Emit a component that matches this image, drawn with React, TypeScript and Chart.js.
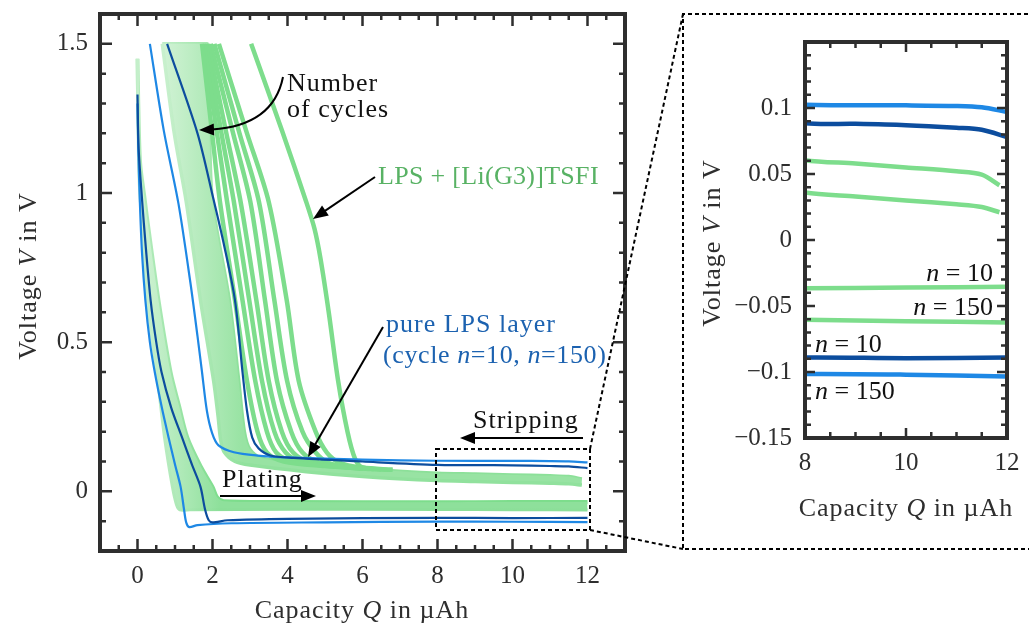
import React, { useEffect, useRef } from 'react';
import { Chart, registerables } from 'chart.js';
Chart.register(...registerables);

type Pt = [number, number];

// ---------- axes ----------
const X_MAIN_TICKS = [0, 2, 4, 6, 8, 10, 12];
const X_MAIN_LABELS = ['0', '2', '4', '6', '8', '10', '12'];
const Y_MAIN_TICKS = [0, 0.5, 1, 1.5];
const Y_MAIN_LABELS = ['0', '0.5', '1', '1.5'];
const X_INSET_TICKS = [8, 10, 12];
const X_INSET_LABELS = ['8', '10', '12'];
const Y_INSET_TICKS = [-0.15, -0.1, -0.05, 0, 0.05, 0.1];
const Y_INSET_LABELS = ['\u22120.15', '\u22120.1', '\u22120.05', '0', '0.05', '0.1'];

// ---------- LPS + [Li(G3)]TSFI (green) : Q in µAh, V in V ----------
const PLATE_10: Pt[] = [[0, 1.45], [0.02, 1.3], [0.07, 1.1], [0.19, 0.98], [0.26, 0.91], [0.56, 0.64], [0.88, 0.4], [1.1, 0.29], [1.33, 0.18], [1.7, 0.08], [2.0, 0.015], [2.12, -0.02], [2.3, -0.033], [4, -0.0355], [8, -0.0365], [10, -0.036], [12, -0.0355]];
const PLATE_150: Pt[] = [[0, 1.45], [0.01, 1.3], [0.03, 1.1], [0.07, 0.98], [0.13, 0.91], [0.26, 0.64], [0.53, 0.38], [0.72, 0.18], [0.93, 0.015], [1.04, -0.045], [1.13, -0.062], [1.4, -0.062], [4, -0.06], [8, -0.0605], [10, -0.0615], [12, -0.0625]];
const STRIP_150: Pt[] = [[0.66, 1.5], [0.98, 1.2], [1.3, 0.97], [1.68, 0.64], [2.03, 0.37], [2.15, 0.25], [2.22, 0.17], [2.32, 0.13], [2.6, 0.1], [3, 0.088], [4.5, 0.066], [6, 0.05], [8, 0.036], [9, 0.033], [10, 0.03], [11, 0.027], [11.5, 0.025], [11.85, 0.021]];
const STRIP_10: Pt[] = [[0.66, 1.5], [1.85, 1.5], [1.86, 1.5], [1.92, 1.2], [2.0, 0.97], [2.45, 0.64], [2.7, 0.37], [2.85, 0.2], [3.0, 0.14], [3.3, 0.112], [4.5, 0.09], [6, 0.075], [8, 0.0605], [9, 0.058], [10, 0.055], [11, 0.052], [11.5, 0.0495], [11.85, 0.0415]];
const CYCLE_A: Pt[] = [[1.72, 1.5], [1.99, 1.2], [2.2, 0.97], [2.6, 0.64], [2.92, 0.37], [3.2, 0.2], [3.45, 0.13], [3.9, 0.1], [5, 0.085], [6, 0.076]];
const CYCLE_B: Pt[] = [[1.77, 1.5], [2.12, 1.2], [2.39, 0.97], [2.8, 0.64], [3.14, 0.37], [3.45, 0.2], [3.7, 0.13], [4.13, 0.1], [5, 0.087], [6, 0.076]];
const CYCLE_C: Pt[] = [[1.82, 1.5], [2.24, 1.2], [2.57, 0.97], [2.98, 0.64], [3.32, 0.37], [3.65, 0.2], [3.95, 0.13], [4.35, 0.1], [5.2, 0.085], [6, 0.076]];
const CYCLE_D: Pt[] = [[1.88, 1.5], [2.37, 1.2], [2.75, 0.97], [3.17, 0.64], [3.5, 0.37], [3.85, 0.2], [4.15, 0.13], [4.6, 0.097], [5.4, 0.084], [6.2, 0.075]];
const CYCLE_E: Pt[] = [[1.95, 1.5], [2.55, 1.2], [3.01, 0.97], [3.4, 0.64], [3.72, 0.37], [4.1, 0.2], [4.4, 0.13], [4.83, 0.097], [5.5, 0.084], [6.3, 0.074]];
const CYCLE_F: Pt[] = [[2.05, 1.5], [2.72, 1.2], [3.24, 0.97], [3.65, 0.64], [3.99, 0.37], [4.4, 0.2], [4.75, 0.13], [5.1, 0.095], [5.8, 0.08], [6.5, 0.073]];
const CYCLE_G: Pt[] = [[2.17, 1.5], [2.92, 1.2], [3.5, 0.97], [3.98, 0.64], [4.3, 0.37], [4.75, 0.2], [5.05, 0.13], [5.41, 0.095], [6, 0.08], [6.8, 0.072]];
const CYCLE_FIRST: Pt[] = [[3.03, 1.5], [3.85, 1.21], [4.5, 0.97], [4.72, 0.88], [4.88, 0.78], [5.1, 0.6], [5.35, 0.37], [5.6, 0.2], [5.8, 0.11], [6.0, 0.08], [6.8, 0.072]];

// ---------- pure LPS layer (blue) ----------
const BLUE_PLATE_150: Pt[] = [[0, 1.3], [0.02, 1.15], [0.06, 0.98], [0.12, 0.8], [0.21, 0.64], [0.33, 0.5], [0.46, 0.4], [0.65, 0.28], [0.83, 0.18], [1.0, 0.09], [1.15, 0.015], [1.24, -0.06], [1.3, -0.105], [1.38, -0.12], [1.6, -0.113], [2.5, -0.107], [5, -0.104], [8, -0.1015], [10, -0.102], [12, -0.1035]];
const BLUE_PLATE_10: Pt[] = [[0, 1.33], [0.03, 1.15], [0.12, 0.98], [0.22, 0.82], [0.35, 0.64], [0.5, 0.5], [0.64, 0.4], [0.9, 0.28], [1.19, 0.18], [1.45, 0.09], [1.68, 0.015], [1.8, -0.06], [1.9, -0.097], [2.0, -0.104], [2.4, -0.097], [4, -0.092], [8, -0.089], [10, -0.0895], [12, -0.089]];
const BLUE_STRIP_150: Pt[] = [[0.33, 1.5], [0.7, 1.21], [1.09, 0.966], [1.41, 0.7], [1.6, 0.52], [1.72, 0.4], [1.85, 0.27], [1.99, 0.195], [2.16, 0.154], [2.57, 0.131], [3.2, 0.12], [4, 0.114], [6, 0.106], [8, 0.1025], [10, 0.102], [11, 0.1015], [11.5, 0.1005], [12, 0.097]];
const BLUE_STRIP_10: Pt[] = [[0.79, 1.5], [1.6, 1.2], [2.03, 0.977], [2.3, 0.83], [2.6, 0.64], [2.8, 0.4], [2.92, 0.27], [3.06, 0.18], [3.23, 0.144], [3.55, 0.12], [4.16, 0.112], [6, 0.1], [8, 0.0885], [9, 0.088], [10, 0.087], [11, 0.085], [11.5, 0.0835], [12, 0.078]];

// ---------- styles ----------
const FONT = '"Liberation Serif", "Times New Roman", serif';
const INK = '#2e2e2e';
const GREEN_LINE = 'rgb(125,221,140)';
const BLUE_LIGHT = 'rgb(30,136,229)';
const BLUE_DARK = 'rgb(12,77,158)';
const GREEN_TEXT = 'rgb(88,178,100)';
const BLUE_TEXT = 'rgb(28,98,176)';

const toXY = (a: Pt[]) => a.map(([x, y]) => ({ x, y }));

const grad = (q0: number, q1: number, c0: string, c1: string) => (c: any) => {
  const ch = c.chart;
  const xs = ch.scales && ch.scales.x;
  if (!ch.chartArea || !xs) return c1;
  const g = ch.ctx.createLinearGradient(xs.getPixelForValue(q0), 0, xs.getPixelForValue(q1), 0);
  g.addColorStop(0, c0);
  g.addColorStop(1, c1);
  return g;
};

function lineDs(data: Pt[], color: any, width: number, order: number, extra: any = {}) {
  return {
    data: toXY(data),
    borderColor: color,
    borderWidth: width,
    pointRadius: 0,
    fill: false,
    order,
    tension: 0.3,
    borderCapStyle: 'butt',
    borderJoinStyle: 'round',
    ...extra,
  };
}

type Part = { t: string; i?: boolean };
function rich(ctx: CanvasRenderingContext2D, parts: Part[], x: number, y: number, o: { size: number; color: string; align?: string; rot?: number; sp?: number }) {
  ctx.save();
  ctx.translate(x, y);
  if (o.rot) ctx.rotate(o.rot);
  ctx.fillStyle = o.color;
  ctx.textBaseline = 'alphabetic';
  ctx.textAlign = 'left';
  const fonts = parts.map((p) => `${p.i ? 'italic ' : ''}${o.size}px ${FONT}`);
  const sp = (o.sp ?? 1) + 'px';
  const widths = parts.map((p, k) => {
    ctx.font = fonts[k];
    (ctx as any).letterSpacing = sp;
    return ctx.measureText(p.t).width;
  });
  const total = widths.reduce((a, b) => a + b, 0);
  let cx = o.align === 'center' ? -total / 2 : o.align === 'right' ? -total : 0;
  parts.forEach((p, k) => {
    ctx.font = fonts[k];
    (ctx as any).letterSpacing = sp;
    ctx.fillText(p.t, cx, 0);
    cx += widths[k];
  });
  ctx.restore();
}

function head(ctx: CanvasRenderingContext2D, x: number, y: number, ang: number, len = 15, half = 6) {
  const c = Math.cos(ang), s = Math.sin(ang);
  ctx.beginPath();
  ctx.moveTo(x, y);
  ctx.lineTo(x - len * c + half * s, y - len * s - half * c);
  ctx.lineTo(x - len * c - half * s, y - len * s + half * c);
  ctx.closePath();
  ctx.fill();
}
function arrow(ctx: CanvasRenderingContext2D, x0: number, y0: number, x1: number, y1: number) {
  const ang = Math.atan2(y1 - y0, x1 - x0);
  ctx.beginPath();
  ctx.moveTo(x0, y0);
  ctx.lineTo(x1 - 10 * Math.cos(ang), y1 - 10 * Math.sin(ang));
  ctx.stroke();
  head(ctx, x1, y1, ang);
}

function framePlugin(o: { xMajor: number[]; xStep: number; yMajor: number[]; yStep: number; majorLen: number; minorLen: number; frameW: number }) {
  return {
    id: 'frame',
    afterDatasetsDraw(chart: any) {
      const { ctx, chartArea: a } = chart;
      const x = chart.scales.x, y = chart.scales.y;
      const near = (arr: number[], v: number) => arr.some((m) => Math.abs(m - v) < 1e-7);
      ctx.save();
      ctx.strokeStyle = INK;
      ctx.lineWidth = 2.5;
      ctx.beginPath();
      for (let n = Math.ceil(x.min / o.xStep - 1e-9); n * o.xStep <= x.max + 1e-9; n++) {
        const v = n * o.xStep;
        const px = x.getPixelForValue(v);
        const L = near(o.xMajor, v) ? o.majorLen : o.minorLen;
        ctx.moveTo(px, a.bottom); ctx.lineTo(px, a.bottom - L);
        ctx.moveTo(px, a.top); ctx.lineTo(px, a.top + L);
      }
      for (let n = Math.ceil(y.min / o.yStep - 1e-9); n * o.yStep <= y.max + 1e-9; n++) {
        const v = n * o.yStep;
        const py = y.getPixelForValue(v);
        const L = near(o.yMajor, v) ? o.majorLen : o.minorLen;
        ctx.moveTo(a.left, py); ctx.lineTo(a.left + L, py);
        ctx.moveTo(a.right, py); ctx.lineTo(a.right - L, py);
      }
      ctx.stroke();
      ctx.lineWidth = o.frameW;
      ctx.strokeRect(a.left, a.top, a.right - a.left, a.bottom - a.top);
      ctx.restore();
    },
  };
}

function axis(min: number, max: number, ticks: number[], labels: string[], size: number, pad: number, fit: (s: any) => void) {
  return {
    type: 'linear',
    min,
    max,
    afterFit: (s: any) => {
      fit(s);
      s.paddingTop = 0;
      s.paddingBottom = 0;
      s.paddingLeft = 0;
      s.paddingRight = 0;
    },
    afterBuildTicks: (s: any) => { s.ticks = ticks.map((v) => ({ value: v })); },
    grid: { display: false, drawTicks: false },
    border: { display: false },
    ticks: { padding: pad, autoSkip: false, maxRotation: 0, color: INK, font: { family: FONT, size }, callback: (_v: any, i: number) => labels[i] },
  };
}

const mainAnnot = {
  id: 'annot',
  afterDraw(chart: any) {
    const ctx: CanvasRenderingContext2D = chart.ctx;
    ctx.save();
    // axis titles
    rich(ctx, [{ t: 'Capacity ' }, { t: 'Q', i: true }, { t: ' in \u00b5Ah' }], 362, 618, { size: 26, color: INK, align: 'center' });
    rich(ctx, [{ t: 'Voltage ' }, { t: 'V', i: true }, { t: ' in V' }], 36, 276, { size: 26, color: INK, align: 'center', rot: -Math.PI / 2 });
    // annotations
    rich(ctx, [{ t: 'Number' }], 287, 91, { size: 26, color: '#111' });
    rich(ctx, [{ t: 'of cycles' }], 287, 117, { size: 26, color: '#111' });
    rich(ctx, [{ t: 'LPS + [Li(G3)]TSFI' }], 378, 184, { size: 26, color: GREEN_TEXT, sp: 0.3 });
    rich(ctx, [{ t: 'pure LPS layer' }], 386, 332, { size: 26, color: BLUE_TEXT });
    rich(ctx, [{ t: '(cycle ' }, { t: 'n', i: true }, { t: '=10, ' }, { t: 'n', i: true }, { t: '=150)' }], 383, 363, { size: 26, color: BLUE_TEXT, sp: 0.6 });
    rich(ctx, [{ t: 'Stripping' }], 473, 428, { size: 26, color: '#111' });
    rich(ctx, [{ t: 'Plating' }], 222, 487, { size: 26, color: '#111' });
    // arrows
    ctx.strokeStyle = '#000';
    ctx.fillStyle = '#000';
    ctx.lineWidth = 2;
    ctx.beginPath();
    ctx.moveTo(283, 77);
    ctx.bezierCurveTo(276, 112, 250, 127, 212, 129.5);
    ctx.stroke();
    head(ctx, 199, 130, Math.PI - 0.04);
    arrow(ctx, 375, 177, 313, 219);
    arrow(ctx, 383, 327, 308, 457);
    arrow(ctx, 583, 438, 460, 438);
    arrow(ctx, 220, 496, 316, 496);
    // zoom boxes
    ctx.setLineDash([4, 3]);
    ctx.lineWidth = 2;
    ctx.strokeRect(436, 449, 154, 81);
    ctx.beginPath();
    ctx.moveTo(590, 449); ctx.lineTo(683, 14);
    ctx.moveTo(590, 530); ctx.lineTo(683, 549);
    ctx.moveTo(1035, 14); ctx.lineTo(683, 14); ctx.lineTo(683, 549); ctx.lineTo(1035, 549);
    ctx.stroke();
    ctx.restore();
  },
};

const insetAnnot = {
  id: 'annot',
  afterDraw(chart: any) {
    const ctx: CanvasRenderingContext2D = chart.ctx;
    ctx.save();
    rich(ctx, [{ t: 'Capacity ' }, { t: 'Q', i: true }, { t: ' in \u00b5Ah' }], 223, 502, { size: 26, color: INK, align: 'center' });
    rich(ctx, [{ t: 'Voltage ' }, { t: 'V', i: true }, { t: ' in V' }], 37, 229, { size: 26, color: INK, align: 'center', rot: -Math.PI / 2 });
    const lab = (num: string, x: number, y: number, align: string) =>
      rich(ctx, [{ t: 'n', i: true }, { t: ' = ' + num }], x, y, { size: 26, color: '#111', align, sp: 0 });
    lab('10', 310, 267, 'right');
    lab('150', 310, 301, 'right');
    lab('10', 132, 338, 'left');
    lab('150', 132, 385, 'left');
    ctx.restore();
  },
};

function mainConfig(): any {
  const plateFill = grad(0.3, 2.2, 'rgb(202,241,207)', 'rgb(142,224,155)');
  const stripFill = grad(0.7, 2.8, 'rgb(208,242,212)', 'rgb(152,227,163)');
  return {
    type: 'line',
    data: {
      datasets: [
        lineDs(PLATE_150, grad(0.3, 2.2, 'rgb(196,239,202)', 'rgb(140,223,153)'), 3, 3, { fill: '+1', backgroundColor: plateFill }),
        lineDs(PLATE_10, grad(0.3, 2.2, 'rgb(175,234,184)', GREEN_LINE), 4, 3),
        lineDs(STRIP_150, grad(0.7, 2.8, 'rgb(200,240,205)', 'rgb(145,225,157)'), 3.5, 3, { fill: '+1', backgroundColor: stripFill }),
        lineDs(STRIP_10, grad(0.7, 2.8, 'rgb(190,238,197)', 'rgb(140,224,153)'), 3.5, 3),
        lineDs(CYCLE_A, GREEN_LINE, 4.5, 2),
        lineDs(CYCLE_B, GREEN_LINE, 4.5, 2),
        lineDs(CYCLE_C, GREEN_LINE, 4.5, 2),
        lineDs(CYCLE_D, GREEN_LINE, 4.5, 2),
        lineDs(CYCLE_E, GREEN_LINE, 4.5, 2),
        lineDs(CYCLE_F, GREEN_LINE, 4.5, 2),
        lineDs(CYCLE_G, GREEN_LINE, 4.5, 2),
        lineDs(CYCLE_FIRST, GREEN_LINE, 4.5, 2),
        lineDs(BLUE_STRIP_10, BLUE_DARK, 2.2, 1),
        lineDs(BLUE_STRIP_150, BLUE_LIGHT, 2.2, 1),
        lineDs(BLUE_PLATE_10, BLUE_DARK, 2.2, 1),
        lineDs(BLUE_PLATE_150, BLUE_LIGHT, 2.2, 1),
      ],
    },
    options: {
      responsive: false,
      animation: false,
      devicePixelRatio: 1,
      events: [],
      layout: { padding: { left: 0, right: 404, top: 14, bottom: 0 } },
      plugins: { legend: { display: false }, tooltip: { enabled: false } },
      scales: {
        x: axis(-1, 13, X_MAIN_TICKS, X_MAIN_LABELS, 25, 10, (s: any) => { s.height = 78; }),
        y: axis(-0.2, 1.6, Y_MAIN_TICKS, Y_MAIN_LABELS, 25, 12, (s: any) => { s.width = 100; }),
      },
    },
    plugins: [framePlugin({ xMajor: X_MAIN_TICKS, xStep: 0.5, yMajor: Y_MAIN_TICKS, yStep: 0.1, majorLen: 12, minorLen: 6, frameW: 4 }), mainAnnot],
  };
}

function insetConfig(): any {
  return {
    type: 'line',
    data: {
      datasets: [
        lineDs(STRIP_10, GREEN_LINE, 4.5, 2),
        lineDs(STRIP_150, GREEN_LINE, 4.5, 2),
        lineDs(PLATE_10, GREEN_LINE, 4.5, 2),
        lineDs(PLATE_150, GREEN_LINE, 4.5, 2),
        lineDs(BLUE_STRIP_150, BLUE_LIGHT, 4.5, 1),
        lineDs(BLUE_STRIP_10, BLUE_DARK, 4.5, 1),
        lineDs(BLUE_PLATE_10, BLUE_DARK, 4.5, 1),
        lineDs(BLUE_PLATE_150, BLUE_LIGHT, 4.5, 1),
      ],
    },
    options: {
      responsive: false,
      animation: false,
      devicePixelRatio: 1,
      events: [],
      layout: { padding: { left: 0, right: 22, top: 28, bottom: 0 } },
      plugins: { legend: { display: false }, tooltip: { enabled: false } },
      scales: {
        x: axis(8, 12, X_INSET_TICKS, X_INSET_LABELS, 25, 10, (s: any) => { s.height = 111; }),
        y: axis(-0.15, 0.15, Y_INSET_TICKS, Y_INSET_LABELS, 25, 13, (s: any) => { s.width = 122; }),
      },
    },
    plugins: [framePlugin({ xMajor: X_INSET_TICKS, xStep: 0.5, yMajor: Y_INSET_TICKS, yStep: 0.01, majorLen: 10, minorLen: 6, frameW: 4 }), insetAnnot],
  };
}

export default function App() {
  const mainRef = useRef<HTMLCanvasElement>(null);
  const insetRef = useRef<HTMLCanvasElement>(null);
  useEffect(() => {
    const c1 = new Chart(mainRef.current as HTMLCanvasElement, mainConfig());
    const c2 = new Chart(insetRef.current as HTMLCanvasElement, insetConfig());
    return () => {
      c1.destroy();
      c2.destroy();
    };
  }, []);
  return (
    <div style={{ position: 'absolute', left: 0, top: 0, width: 1029, height: 629, background: '#fff', overflow: 'hidden' }}>
      <canvas ref={mainRef} width={1029} height={629} style={{ position: 'absolute', left: 0, top: 0, width: 1029, height: 629 }} />
      <canvas ref={insetRef} width={346} height={535} style={{ position: 'absolute', left: 683, top: 14, width: 346, height: 535 }} />
    </div>
  );
}
